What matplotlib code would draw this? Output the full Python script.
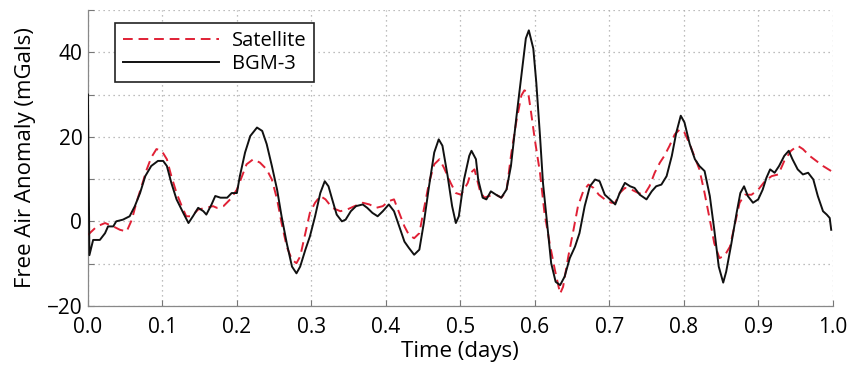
import matplotlib
matplotlib.use("Agg")
import matplotlib.pyplot as plt

plt.rcParams['font.family'] = ['Open Sans', 'DejaVu Sans']

# BGM-3 (black solid)
t_bgm = [0.0, 0.002, 0.007, 0.016, 0.023, 0.027, 0.034, 0.038, 0.047, 0.056, 0.063, 0.070,
         0.077, 0.085, 0.094, 0.101, 0.106, 0.112, 0.119, 0.128, 0.135, 0.141, 0.148, 0.155,
         0.159, 0.166, 0.171, 0.178, 0.187, 0.193, 0.200, 0.204, 0.211, 0.218, 0.227, 0.234,
         0.240, 0.247, 0.254, 0.260, 0.267, 0.274, 0.280, 0.285, 0.292, 0.298, 0.305, 0.312,
         0.318, 0.323, 0.328, 0.334, 0.341, 0.346, 0.353, 0.360, 0.369, 0.375, 0.382, 0.389,
         0.396, 0.404, 0.411, 0.418, 0.425, 0.431, 0.438, 0.445, 0.451, 0.458, 0.465, 0.471,
         0.476, 0.483, 0.489, 0.494, 0.498, 0.505, 0.512, 0.515, 0.521, 0.524, 0.530, 0.535,
         0.541, 0.548, 0.555, 0.562, 0.568, 0.575, 0.582, 0.588, 0.592, 0.598, 0.602, 0.607,
         0.611, 0.617, 0.622, 0.628, 0.634, 0.640, 0.647, 0.654, 0.660, 0.667, 0.674, 0.681,
         0.687, 0.694, 0.701, 0.708, 0.714, 0.721, 0.728, 0.734, 0.741, 0.750, 0.757, 0.763,
         0.770, 0.777, 0.784, 0.790, 0.796, 0.801, 0.808, 0.815, 0.821, 0.828, 0.835, 0.841,
         0.847, 0.853, 0.857, 0.864, 0.871, 0.876, 0.881, 0.886, 0.893, 0.900, 0.906, 0.911,
         0.916, 0.922, 0.928, 0.935, 0.941, 0.946, 0.953, 0.960, 0.967, 0.974, 0.980, 0.987,
         0.992, 0.996, 0.998]
bgm = [30.0, -8.0, -4.4, -4.4, -2.8, -1.2, -1.2, 0.0, 0.4, 1.2, 3.6, 6.7,
       10.7, 13.1, 14.3, 14.3, 13.1, 9.1, 5.2, 2.0, -0.4, 1.2, 3.2, 2.4,
       1.6, 4.0, 6.0, 5.6, 5.6, 6.7, 6.7, 10.7, 16.3, 20.2, 22.2, 21.4,
       18.3, 13.1, 7.5, 1.2, -5.2, -10.7, -12.3, -10.7, -6.7, -3.6, 1.2, 6.7,
       9.5, 8.3, 5.2, 1.6, 0.0, 0.4, 2.4, 3.6, 4.0, 3.2, 2.0, 1.2,
       2.4, 4.0, 2.4, -1.2, -4.8, -6.3, -7.9, -6.7, -0.4, 8.3, 16.3, 19.4,
       17.9, 10.7, 3.6, -0.4, 1.2, 9.9, 15.5, 16.7, 14.7, 9.9, 5.6, 5.2,
       7.1, 6.3, 5.6, 7.5, 13.1, 24.2, 34.5, 43.3, 45.2, 40.9, 32.9, 20.2,
       9.1, -1.2, -9.9, -14.3, -15.1, -13.1, -8.7, -6.0, -2.8, 3.6, 8.3, 9.9,
       9.5, 6.3, 5.2, 4.0, 6.7, 9.1, 8.3, 7.9, 6.3, 5.2, 7.1, 8.3,
       8.7, 10.7, 15.5, 21.0, 25.0, 23.4, 18.3, 14.7, 13.1, 11.9, 6.0, -2.0,
       -10.7, -14.5, -11.9, -5.2, 2.0, 6.7, 8.3, 6.0, 4.4, 5.2, 7.5, 10.3,
       12.3, 11.5, 13.1, 15.5, 16.7, 14.7, 12.3, 11.1, 11.5, 9.9, 6.0, 2.4,
       1.6, 0.8, -2.0]

# Satellite (red dashed)
t_sat = [0.0, 0.012, 0.023, 0.034, 0.043, 0.052, 0.059, 0.065, 0.072, 0.079, 0.085, 0.092,
         0.099, 0.106, 0.112, 0.119, 0.126, 0.132, 0.139, 0.148, 0.159, 0.168, 0.173, 0.182,
         0.191, 0.200, 0.207, 0.213, 0.222, 0.231, 0.240, 0.247, 0.254, 0.260, 0.267, 0.274,
         0.280, 0.285, 0.292, 0.298, 0.305, 0.312, 0.319, 0.328, 0.339, 0.348, 0.358, 0.369,
         0.378, 0.387, 0.396, 0.404, 0.411, 0.418, 0.425, 0.431, 0.438, 0.445, 0.451, 0.458,
         0.465, 0.472, 0.478, 0.487, 0.494, 0.501, 0.510, 0.514, 0.519, 0.526, 0.532, 0.539,
         0.548, 0.555, 0.562, 0.568, 0.575, 0.582, 0.586, 0.591, 0.595, 0.600, 0.607, 0.613,
         0.620, 0.627, 0.634, 0.638, 0.645, 0.652, 0.658, 0.665, 0.672, 0.679, 0.686, 0.697,
         0.703, 0.708, 0.714, 0.721, 0.730, 0.739, 0.747, 0.754, 0.761, 0.768, 0.774, 0.781,
         0.788, 0.795, 0.801, 0.808, 0.815, 0.821, 0.828, 0.835, 0.841, 0.848, 0.855, 0.862,
         0.869, 0.875, 0.882, 0.891, 0.900, 0.909, 0.918, 0.927, 0.935, 0.944, 0.953, 0.960,
         0.969, 0.978, 0.987, 0.998]
sat = [-3.2, -1.2, -0.4, -1.2, -2.0, -2.4, 0.4, 4.4, 8.3, 12.3, 15.1, 17.1,
       16.7, 14.7, 10.7, 6.7, 3.6, 1.2, 1.2, 2.8, 3.2, 3.6, 3.2, 3.6,
       5.2, 7.5, 10.7, 13.5, 14.7, 13.9, 12.3, 9.9, 5.2, -0.4, -6.0, -9.1,
       -9.9, -8.3, -2.8, 2.0, 4.4, 6.0, 5.2, 3.2, 2.4, 2.8, 3.6, 4.4,
       4.0, 3.2, 3.6, 4.8, 5.2, 2.0, -1.2, -3.2, -4.0, -2.8, 2.8, 9.1,
       13.5, 14.7, 12.7, 9.1, 6.7, 6.3, 9.1, 11.5, 12.3, 7.5, 5.6, 6.0,
       6.3, 5.6, 7.1, 15.5, 23.4, 29.8, 31.0, 30.6, 25.8, 19.4, 11.5, 2.0,
       -5.2, -11.5, -17.1, -15.5, -8.3, -2.0, 3.6, 7.1, 8.7, 7.9, 6.3, 4.8,
       4.4, 4.4, 6.7, 7.9, 7.5, 6.7, 6.3, 8.3, 11.5, 13.9, 15.5, 17.9,
       20.6, 21.8, 21.0, 18.3, 15.1, 12.3, 6.7, 0.4, -5.2, -8.7, -8.1, -6.0,
       -0.4, 4.4, 6.3, 6.3, 7.5, 9.5, 10.7, 11.1, 14.3, 16.7, 17.9, 17.1,
       15.5, 14.3, 13.1, 11.9]

fig = plt.figure(figsize=(8.62, 3.73), dpi=100)
ax = fig.add_axes([0.102, 0.180, 0.864, 0.793])

ax.plot(t_sat, sat, color='#e02035', linestyle=(0, (5, 3)), linewidth=1.4, label='Satellite', zorder=3)
ax.plot(t_bgm, bgm, color='#111111', linewidth=1.4, label='BGM-3', zorder=4)

ax.set_xlim(0, 1.0)
ax.set_ylim(-20, 50)
ax.set_xticks([i / 10 for i in range(11)])
ax.set_xticklabels(['%.1f' % (i / 10) for i in range(11)])
ax.set_yticks([-20, -10, 0, 10, 20, 30, 40, 50])
ax.set_yticklabels(['\u221220', '', '0', '', '20', '', '40', ''])

ax.grid(True, linestyle=(0, (1, 3)), color='#a8a8a8', linewidth=0.9)
ax.tick_params(direction='in', length=4, color='#777777', labelsize=15)
ax.tick_params(axis='x', pad=8)
ax.tick_params(axis='y', pad=4)

for s in ['top', 'right']:
    ax.spines[s].set_visible(False)
for s in ['left', 'bottom']:
    ax.spines[s].set_color('#888888')
    ax.spines[s].set_linewidth(0.9)

ax.set_xlabel('Time (days)', fontsize=16, labelpad=2)
ax.set_ylabel('Free Air Anomaly (mGals)', fontsize=16, labelpad=8)

leg = ax.legend(loc='upper left', bbox_to_anchor=(0.036, 0.957), fontsize=14.5,
                handlelength=4.8, handletextpad=0.6, borderpad=0.4, labelspacing=0.15,
                frameon=True, fancybox=False, borderaxespad=0)
leg.get_frame().set_edgecolor('#222222')
leg.get_frame().set_linewidth(1.2)
leg.get_frame().set_alpha(1)

fig.savefig('out.png', dpi=100)
